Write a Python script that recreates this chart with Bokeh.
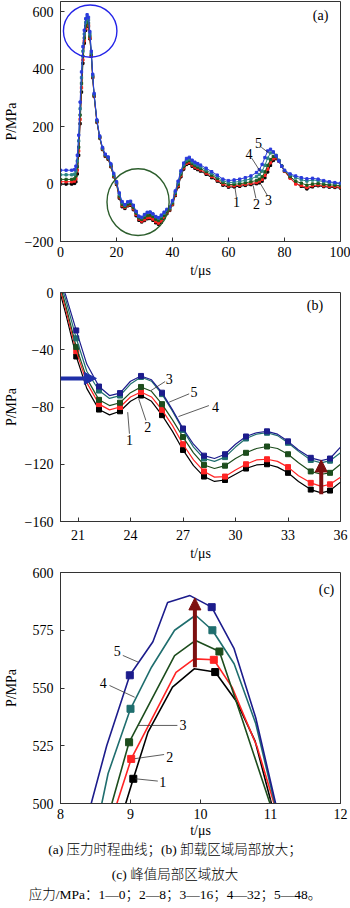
from bokeh.plotting import figure
from bokeh.layouts import column
from bokeh.models import Range1d, FixedTicker, Arrow, NormalHead, Div
from bokeh.core.properties import value
from bokeh.embed import file_html
from bokeh.resources import INLINE

# ---------------- data: panel (a) ----------------
t_a = [0, 2, 4, 5, 5.5, 6, 6.5, 7, 7.5, 8, 8.5, 9, 9.5, 10, 10.5, 11, 11.5, 12,
       13, 14, 15, 16, 17, 18, 19, 20, 21, 22, 23, 24, 25, 26, 27, 28, 29, 30,
       31, 32, 33, 34, 35, 36, 37, 38, 39, 40, 41, 42, 43, 44, 45, 46, 47, 48, 49, 50,
       52, 54, 56, 58, 60, 62, 64, 66, 68, 70,
       71, 72, 73, 74, 75, 76, 77, 78, 79, 80,
       82, 84, 86, 88, 90, 92, 94, 96, 98, 100]
a1 = [0, 0, 0, 2, 8, 35, 100, 210, 320, 420, 490, 535, 557, 548, 505, 445, 370, 305,
      215, 160, 120, 96, 86, 60, 25, -1, -49, -79, -85, -76, -74, -89, -110, -126, -132, -127,
      -121, -120, -126, -135, -140, -133, -118, -103, -92, -72, -40, -10, 25, 52, 68, 72, 62, 55, 50, 45,
      34, 22, 10, -4, -11, -10, -8, -5, -2, 1,
      4, 10, 22, 42, 65, 82, 88, 80, 62, 45,
      22, 2, -8, -17, -10, -6, -9, -11, -12, -14]
a2 = [8, 8, 8, 10, 18, 48, 115, 225, 335, 432, 498, 541, 561, 552, 508, 447, 372, 307,
      217, 162, 122, 98, 88, 62, 27, 2, -45, -75, -81.5, -73, -71.5, -86, -106, -122, -129, -124,
      -117.5, -117, -122, -131, -136, -129, -115, -100, -90, -70, -37, -6, 29, 56, 72, 76, 66, 59, 54, 49,
      38, 26, 14, 0, -7, -6, -4, -1, 2, 5,
      9, 16, 30, 52, 74, 88, 91, 80, 62, 44,
      20, 0, -5, -12, -6, -3, -6, -8, -9, -11]
a3 = [16, 16, 16, 18, 28, 60, 128, 240, 350, 445, 508, 550, 569, 560, 514, 451, 375, 309,
      219, 163, 123, 100, 90, 64, 29, 4, -42, -71, -78.5, -70, -68, -82, -101, -118, -123, -116,
      -110, -108, -113, -122.5, -127, -120, -109, -96, -87, -66, -33, -1, 34, 61, 77, 81, 71, 64, 59, 54,
      43, 31, 19, 5, -2, -1, 1, 4, 8, 12,
      17, 25, 42, 65, 85, 96, 95, 82, 63, 46,
      26, 10, 3, -4, 0, 2, -1, -3, -4, -6]
a4 = [32, 32, 32, 34, 45, 80, 150, 262, 370, 462, 522, 562, 580, 571, 522, 456, 378, 312,
      221, 165, 125, 102, 92, 67, 33, 6, -36, -65, -73.5, -64, -61, -75, -96, -113.5, -117.5, -108,
      -99.5, -98.5, -105, -114, -119, -112, -102, -91, -83, -61, -28, 5, 40, 67, 83, 87, 77, 70, 65, 60,
      49, 37, 25, 11, 5, 6, 9, 13, 18, 26,
      33, 45, 65, 90, 108, 110, 100, 82, 62, 47,
      32, 22, 15, 10, 14, 12, 8, 5, 3, 1]
a5 = [48, 48, 48, 50, 62, 100, 170, 285, 390, 478, 535, 575, 589, 580, 530, 462, 382, 315,
      223, 167, 127, 104, 94, 70, 37, 8, -31, -61, -71.5, -62, -60, -74, -95, -112, -115.5, -106,
      -98.5, -97.5, -104, -113, -117, -108, -98, -88, -80, -58, -24, 10, 46, 73, 89, 93, 83, 76, 71, 66,
      55, 43, 31, 17, 12, 14, 17, 22, 28, 40,
      50, 68, 92, 115, 121, 112, 98, 80, 62, 48,
      35, 28, 22, 18, 20, 17, 12, 8, 5, 3]

# ---------------- data: panel (b) ----------------
t_b = [20.0, 20.3, 20.9, 21.5, 22.2, 22.8, 23.4, 24.0, 24.6, 25.2, 25.8, 26.4, 27.0, 27.6,
       28.2, 28.8, 29.4, 30.0, 30.6, 31.2, 31.8, 32.4, 33.0, 33.6, 34.3, 34.9, 35.4, 36.0]
b1 = [-1, -15, -44.7, -67, -81.8, -85.5, -83, -76, -72, -76, -85.7, -97, -110, -121,
      -128.6, -132, -131, -127, -123, -120.5, -120, -122, -126, -132, -137.7, -140, -138.4, -132.5]
b2 = [2, -12, -41, -63, -78, -82, -80, -73, -69.5, -73, -82, -93, -106, -117,
      -125, -129, -128.6, -124, -120, -117, -116.5, -118, -122, -128, -133, -135.5, -134, -129]
b3 = [4, -9, -38, -60, -75, -79, -77, -70, -66, -69, -78, -89, -101, -112,
      -120.5, -123, -121, -116, -112, -109, -107.6, -109, -113, -119, -125, -127, -126, -120]
b4 = [6, -5, -32, -55, -68.5, -74, -72, -64, -59, -62, -71, -83, -96, -108,
      -116, -118, -115, -108, -102, -99, -98, -100, -105, -111, -117, -119, -117.5, -112]
b5 = [8, -2, -26.5, -50, -65.7, -72, -70.3, -62, -58.3, -61, -70, -82, -95, -106,
      -114, -116, -113, -106, -100.6, -98, -97, -99, -104, -110, -115.5, -117.5, -116, -108]

# ---------------- data: panel (c) ----------------
tc1 = [8.85, 9.04, 9.25, 9.6, 9.91, 10.21, 10.52, 10.78, 11.1]
pc1 = [492, 510.7, 530.9, 550.4, 558.3, 556.9, 543.9, 527, 490]
tc2 = [8.72, 9.01, 9.65, 9.91, 10.19, 10.45, 10.81, 11.15]
pc2 = [492, 519.3, 556.8, 562.6, 562.2, 550.4, 524.4, 490]
tc3 = [8.64, 8.98, 9.63, 9.93, 10.27, 10.6, 11.08]
pc3 = [490, 526.5, 564, 570.6, 565.8, 536, 492]
tc4 = [8.52, 8.68, 9.0, 9.3, 9.63, 9.93, 10.17, 10.48, 10.79, 11.14]
pc4 = [490, 513, 541, 559, 575, 581.5, 575, 560.5, 534.5, 490]
tc5 = [8.35, 8.66, 8.99, 9.32, 9.53, 9.85, 10.16, 10.48, 10.79, 11.15]
pc5 = [490, 525, 555.5, 570, 587, 590, 585, 567, 537, 490]
mark_c1 = [1, 5]
mark_c2 = [1, 4]
mark_c3 = [1, 4]
mark_c4 = [2, 6]
mark_c5 = [2, 6]

labels = ["1", "2", "3", "4", "5"]
caption = ["(a) 压力时程曲线；(b) 卸载区域局部放大；",
           "(c) 峰值局部区域放大",
           "应力/MPa：1—0；2—8；3—16；4—32；5—48。"]

# ---------------- styles ----------------
SERIF = "Liberation Serif"
cols_a = ["#000000", "#ff2020", "#1f5a1f", "#2a8585", "#2b3bdc"]
cols_bc = ["#000000", "#ff2424", "#1d4d1d", "#1f6e6e", "#1c1c8c"]
DARKRED = "#7d1010"
ARROWBLUE = "#1f2fa8"


def style(p, xticks, yticks, xls, xals, yals, yover=None):
    p.outline_line_color = "#333333"
    p.outline_line_width = 1
    p.xgrid.visible = False
    p.ygrid.visible = False
    p.background_fill_color = "white"
    p.border_fill_color = "white"
    p.xaxis.ticker = FixedTicker(ticks=xticks)
    p.yaxis.ticker = FixedTicker(ticks=yticks)
    if yover:
        p.yaxis.major_label_overrides = yover
    for ax in (p.xaxis[0], p.yaxis[0]):
        ax.major_tick_in = 4
        ax.major_tick_out = 0
        ax.minor_tick_in = 0
        ax.minor_tick_out = 0
        ax.axis_line_color = "#333333"
        ax.major_tick_line_color = "#333333"
        ax.major_label_text_font = SERIF
        ax.major_label_text_font_size = "14px"
        ax.major_label_text_color = "black"
        ax.axis_label_text_font = SERIF
        ax.axis_label_text_font_size = "14px"
        ax.axis_label_text_font_style = "normal"
        ax.axis_label_text_color = "black"
    p.xaxis.major_label_standoff = xls
    p.yaxis.major_label_standoff = 7
    p.xaxis.axis_label_standoff = xals
    p.yaxis.axis_label_standoff = yals


def txt(p, xs, ys, texts, size="14px", align="center"):
    p.text(x=xs, y=ys, text=texts, text_font=value(SERIF), text_font_size=size,
           text_align=align, text_baseline="middle", text_color="black")


# ---------------- panel (a) ----------------
pa = figure(width=350, height=284, output_backend="svg", toolbar_location=None,
            x_range=Range1d(0, 100), y_range=Range1d(-200, 635),
            min_border_left=57, min_border_right=10, min_border_top=1, min_border_bottom=43,
            x_axis_label="t/μs", y_axis_label="P/MPa")
style(pa, [0, 20, 40, 60, 80, 100], [-200, 0, 200, 400, 600], 5, 3, 3, {-200: "−200"})
for ys, c in zip([a1, a2, a3, a4, a5], cols_a):
    pa.line(t_a, ys, line_color=c, line_width=1)
    pa.scatter(t_a, ys, marker="square", size=2.3, color=c)
# highlight circles
pa.ellipse(x=[10.6], y=[532], width=19.1, height=182, fill_alpha=0,
           line_color="#2424e8", line_width=1.4)
pa.ellipse(x=[27.7], y=[-63], width=22.2, height=232, fill_alpha=0,
           line_color="#2d5e2d", line_width=1.4)
# leaders and numbers
pa.segment(x0=[62.8, 69.8, 73.9, 68.3, 71.7], y0=[-45, -50, -40, 90, 128],
           x1=[62.3, 68.8, 71.0, 71.7, 74.4], y1=[-12, -5, 8, 38, 108],
           line_color="#333333", line_width=0.8)
txt(pa, [62.9, 70.0, 74.3, 67.3, 70.7], [-63, -69, -57, 103, 144], labels)
txt(pa, [92.9], [586], ["(a)"])

# ---------------- panel (b) ----------------
pb = figure(width=350, height=281, output_backend="svg", toolbar_location=None,
            x_range=Range1d(20, 36), y_range=Range1d(-160, 0),
            min_border_left=57, min_border_right=10, min_border_top=8, min_border_bottom=44,
            x_axis_label="t/μs", y_axis_label="P/MPa")
style(pb, [21, 24, 27, 30, 33, 36], [-160, -120, -80, -40, 0], 8, 3, 3)
for ys, c in zip([b1, b2, b3, b4, b5], cols_bc):
    pb.line(t_b, ys, line_color=c, line_width=1.2)
    pb.scatter(t_b[2:27:2], ys[2:27:2], marker="square", size=5, color=c)
pb.add_layout(Arrow(end=NormalHead(size=12, fill_color=ARROWBLUE, line_color=ARROWBLUE),
                    x_start=20.0, y_start=-60, x_end=22.05, y_end=-60,
                    line_color=ARROWBLUE, line_width=4))
pb.add_layout(Arrow(end=NormalHead(size=12, fill_color=DARKRED, line_color=DARKRED),
                    x_start=34.9, y_start=-141, x_end=34.9, y_end=-117,
                    line_color=DARKRED, line_width=4))
pb.segment(x0=[23.84, 24.47, 25.17, 26.74, 26.21], y0=[-83.6, -74.3, -68.5, -86.7, -76.6],
           x1=[23.94, 24.88, 25.98, 28.48, 27.35], y1=[-98.7, -89.4, -62.2, -79.0, -70.8],
           line_color="#333333", line_width=0.8)
txt(pb, [23.94, 24.98, 26.21, 28.86, 27.63], [-103.4, -94.1, -60.3, -80.1, -69.7], labels)
txt(pb, [34.54], [-9.1], ["(b)"])

# ---------------- panel (c) ----------------
pc = figure(width=350, height=277, output_backend="svg", toolbar_location=None,
            x_range=Range1d(8, 12), y_range=Range1d(500, 600),
            min_border_left=57, min_border_right=10, min_border_top=7, min_border_bottom=39,
            x_axis_label="t/μs", y_axis_label="P/MPa")
style(pc, [8, 9, 10, 11, 12], [500, 525, 550, 575, 600], 5, 1, 11)
for tt, ys, mk, c in zip([tc1, tc2, tc3, tc4, tc5], [pc1, pc2, pc3, pc4, pc5],
                         [mark_c1, mark_c2, mark_c3, mark_c4, mark_c5], cols_bc):
    pc.line(tt, ys, line_color=c, line_width=1.6)
    pc.scatter([tt[i] for i in mk], [ys[i] for i in mk], marker="square", size=7, color=c)
pc.add_layout(Arrow(end=NormalHead(size=12, fill_color=DARKRED, line_color=DARKRED),
                    x_start=9.92, y_start=559, x_end=9.92, y_end=589,
                    line_color=DARKRED, line_width=4))
pc.segment(x0=[9.07, 9.06, 9.11, 8.70, 8.89], y0=[510.7, 519.4, 533.8, 551.1, 564.1],
           x1=[9.39, 9.48, 9.67, 9.06, 9.11], y1=[509.7, 521.2, 533.8, 546.0, 561.2],
           line_color="#333333", line_width=0.8)
txt(pc, [9.46, 9.56, 9.75, 8.61, 8.81], [509.2, 520.3, 533.8, 552.1, 566.2], labels)
txt(pc, [11.8], [592.6], ["(c)"])

# ---------------- caption (HTML) ----------------
tops = [0, 25, 45]
lines_html = "".join(
    '<div style="position:absolute;left:0;top:%dpx;width:350px;text-align:center;'
    'line-height:16px;white-space:nowrap;">%s</div>' % (tp, s)
    for tp, s in zip(tops, caption))
cap = Div(text='<div style="position:relative;width:350px;height:66px;'
               "font-family:'Liberation Serif','Noto Sans CJK SC',serif;font-weight:300;"
               'font-size:13.5px;color:#000;">' + lines_html + '</div>',
          width=350, height=66, margin=(0, 0, 0, 0))

layout = column(pa, pb, pc, cap, spacing=0)
open("out.html", "w").write(file_html(layout, INLINE))
